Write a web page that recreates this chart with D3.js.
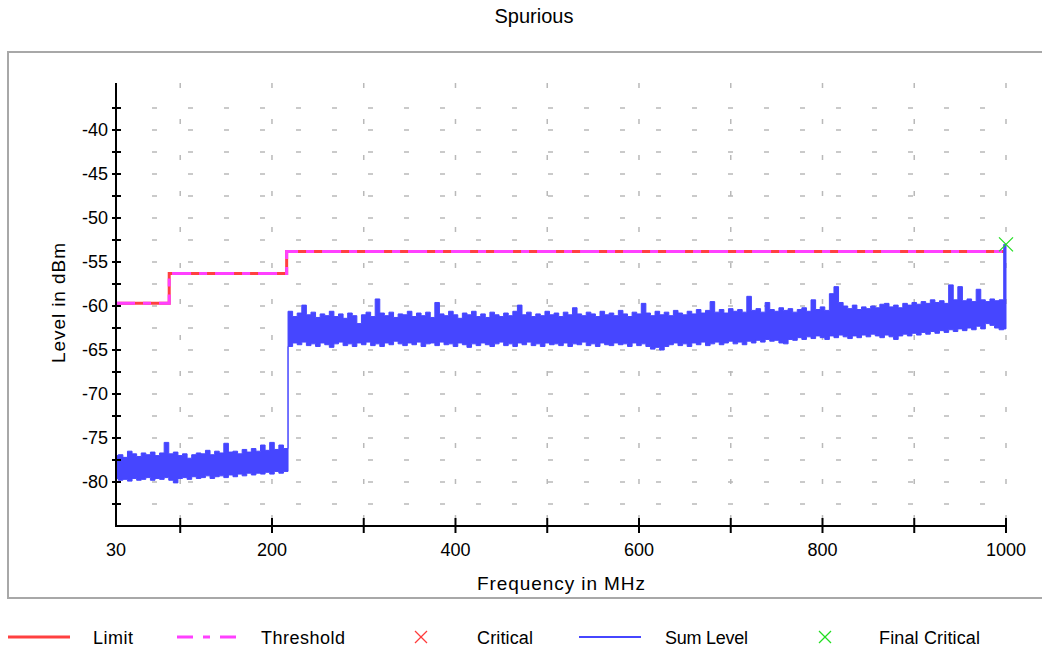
<!DOCTYPE html>
<html><head><meta charset="utf-8">
<script src="https://cdn.jsdelivr.net/npm/d3@7"></script>
<style>
html,body{margin:0;padding:0;background:#fff;}
svg{display:block;font-family:"Liberation Sans",Arial,sans-serif;}
</style></head><body>
<svg id="chart" width="1042" height="649"></svg>
<script>
// ---------- texts ----------
const chartTitle = "Spurious";
const xAxisTitle = "Frequency in MHz";
const yAxisTitle = "Level in dBm";
const legendNames = ["Limit", "Threshold", "Critical", "Sum Level", "Final Critical"];

// ---------- ticks ----------
const xTicks = [100, 200, 300, 400, 500, 600, 700, 800, 900, 1000];
const xTickLabelValues = [30, 200, 400, 600, 800, 1000];
const yTicks = [-82.5, -80, -77.5, -75, -72.5, -70, -67.5, -65, -62.5, -60, -57.5, -55, -52.5, -50, -47.5, -45, -42.5, -40, -37.5];
const yTickLabelValues = [-80, -75, -70, -65, -60, -55, -50, -45, -40];

// ---------- limit / threshold (step lines) ----------
const limitFreq = [30, 88, 216, 1000];
const limitLevel = [-59.7, -56.3, -53.8, -53.8];
const thresholdFreq = [30, 88, 216, 1000];
const thresholdLevel = [-59.7, -56.3, -53.8, -53.8];

// ---------- critical points ----------
const criticalFreq = [];
const criticalLevel = [];
const finalCriticalFreq = [1000];
const finalCriticalLevel = [-53.0];

// ---------- sum level trace (peak envelope per 5 MHz bin, 30..1000 MHz) ----------
const sumFreqStart = 30, sumFreqStep = 5;
const sumUpper = [
 -77.0,-76.9,-77.2,-76.5,-76.8,-77.1,-76.7,-76.9,-76.6,-77.0,-76.7,-75.5,-76.8,-76.6,-77.0,-76.8,-77.3,-76.9,-76.7,-76.8,
 -76.4,-76.9,-76.5,-76.7,-75.6,-76.6,-76.5,-76.8,-76.3,-76.6,-76.2,-76.5,-75.8,-76.4,-75.5,-76.3,-75.8,-76.2,
 -60.6,-61.2,-60.8,-59.9,-61.0,-60.7,-61.3,-60.9,-61.1,-60.6,-61.2,-60.9,-61.4,-60.8,-61.1,-62.0,-61.0,-60.7,-61.2,-59.2,
 -60.8,-61.1,-60.7,-61.3,-60.9,-61.0,-60.6,-61.2,-60.8,-61.1,-60.7,-61.3,-59.6,-60.9,-61.1,-60.6,-61.0,-61.4,-60.8,-61.0,
 -60.6,-61.2,-60.9,-61.3,-60.7,-61.0,-61.2,-60.8,-61.1,-60.6,-59.9,-61.0,-60.7,-61.2,-60.9,-61.1,-60.6,-61.0,-60.8,-61.2,
 -60.7,-61.0,-60.2,-60.9,-61.1,-60.7,-60.9,-61.2,-60.6,-61.0,-60.8,-61.1,-60.5,-60.9,-61.2,-60.7,-60.9,-59.7,-60.8,-61.1,
 -60.6,-61.0,-60.7,-61.1,-60.5,-60.8,-61.0,-60.6,-60.9,-60.4,-60.8,-60.5,-59.5,-60.7,-60.4,-60.8,-60.3,-60.6,-60.4,-60.7,
 -58.9,-60.5,-60.3,-60.7,-59.6,-60.4,-60.6,-60.2,-60.5,-60.3,-60.7,-60.4,-60.2,-60.6,-59.3,-60.4,-60.1,-60.5,-58.6,-57.8,
 -59.6,-60.0,-60.3,-59.9,-60.4,-60.1,-60.3,-60.0,-60.2,-59.8,-59.7,-60.1,-59.9,-60.2,-59.7,-59.9,-59.6,-59.8,-59.5,-59.7,
 -59.3,-59.6,-59.4,-59.7,-57.6,-59.3,-57.8,-59.4,-59.2,-59.5,-58.1,-59.3,-59.5,-59.2,-59.4,-59.3,-53.0
];
const sumLower = [
 -79.6,-79.8,-79.7,-79.9,-79.6,-79.8,-79.7,-79.5,-79.8,-79.6,-79.7,-79.5,-79.8,-80.1,-79.6,-79.5,-79.7,-79.4,-79.6,-79.5,
 -79.3,-79.6,-79.4,-79.3,-79.5,-79.2,-79.4,-79.1,-79.3,-79.0,-79.2,-79.0,-79.1,-78.9,-79.1,-78.8,-79.0,-78.8,
 -64.6,-64.2,-64.4,-64.1,-64.5,-64.3,-64.6,-64.2,-64.4,-64.7,-64.3,-64.1,-64.5,-64.3,-64.6,-64.2,-64.4,-64.1,-64.5,-64.3,
 -64.6,-64.2,-64.4,-64.0,-64.3,-64.5,-64.2,-64.4,-64.1,-64.6,-64.3,-64.2,-64.5,-64.1,-64.4,-64.3,-64.6,-64.2,-64.4,-64.7,
 -64.3,-64.5,-64.2,-64.4,-64.6,-64.3,-64.1,-64.5,-64.3,-64.6,-64.2,-64.4,-64.1,-64.5,-64.3,-64.6,-64.2,-64.4,-64.3,-64.5,
 -64.2,-64.6,-64.3,-64.4,-64.1,-64.5,-64.3,-64.6,-64.2,-64.4,-64.5,-64.2,-64.4,-64.3,-64.6,-64.2,-64.5,-64.3,-64.6,-64.9,
 -64.7,-65.0,-64.6,-64.4,-64.2,-64.5,-64.3,-64.6,-64.2,-64.4,-64.1,-64.5,-64.3,-64.1,-64.4,-64.2,-64.0,-64.3,-64.1,-64.4,
 -64.0,-64.2,-63.9,-64.1,-63.8,-64.0,-63.9,-64.2,-64.3,-63.8,-63.9,-63.6,-63.8,-63.5,-63.7,-63.4,-63.6,-63.8,-63.4,-63.6,
 -63.3,-63.5,-63.7,-63.4,-63.6,-63.3,-63.5,-63.2,-63.4,-63.6,-63.3,-63.5,-63.8,-63.4,-63.2,-63.4,-63.1,-63.3,-63.0,-63.2,
 -62.9,-63.1,-62.8,-63.0,-62.7,-62.9,-62.6,-62.8,-62.5,-62.7,-62.3,-62.6,-62.0,-62.2,-62.5,-62.7,-62.6
];

// ---------- colours ----------
const colLimit = "#ff4040", colThreshold = "#ff40ff", colCritical = "#ff3b3b",
      colSum = "#4646ff", colFinal = "#22dd22", colGrid = "#b9b9b9";

const svg = d3.select("#chart");
const x = d3.scaleLinear().domain([30, 1000]).range([116, 1006]);
const y = d3.scaleLinear().domain([-85, -35]).range([526, 86]);

// frame
svg.append("rect").attr("x", 8).attr("y", 52).attr("width", 1040).attr("height", 546)
  .attr("fill", "#fff").attr("stroke", "#a8a8a8").attr("stroke-width", 2);

// title
svg.append("text").attr("x", 534).attr("y", 23).attr("text-anchor", "middle")
  .attr("font-size", 20).text(chartTitle);

// grid
const grid = svg.append("g");
grid.selectAll("line.h").data(yTicks).join("line")
  .attr("x1", x(30)).attr("x2", x(1000)).attr("y1", d => y(d)).attr("y2", d => y(d))
  .attr("stroke", colGrid).attr("stroke-width", 1.5).attr("stroke-dasharray", "5 31");
grid.selectAll("line.v").data(xTicks).join("line")
  .attr("x1", d => x(d)).attr("x2", d => x(d)).attr("y1", 83).attr("y2", y(-85))
  .attr("stroke", colGrid).attr("stroke-width", 1.5).attr("stroke-dasharray", "5 31");

// limit + threshold
const stepLine = d3.line().x(d => x(d[0])).y(d => y(d[1])).curve(d3.curveStepAfter);
svg.append("path").attr("d", stepLine(limitFreq.map((f, i) => [f, limitLevel[i]])))
  .attr("fill", "none").attr("stroke", colLimit).attr("stroke-width", 3);
svg.append("path").attr("d", stepLine(thresholdFreq.map((f, i) => [f, thresholdLevel[i]])))
  .attr("fill", "none").attr("stroke", colThreshold).attr("stroke-width", 3)
  .attr("stroke-dasharray", "19 8 8 8");

// sum level
const sumData = sumUpper.map((hi, i) => ({ f: sumFreqStart + i * sumFreqStep, hi: hi, lo: sumLower[i] }));
const sumArea = d3.area().x(d => x(d.f)).y0(d => y(d.lo)).y1(d => y(d.hi)).curve(d3.curveStep);
svg.append("path").attr("d", sumArea(sumData))
  .attr("fill", colSum).attr("stroke", colSum).attr("stroke-width", 1).attr("stroke-linejoin", "miter");

// axes
const ax = svg.append("g").attr("stroke", "#000");
ax.append("line").attr("x1", x(30)).attr("x2", x(30)).attr("y1", 83).attr("y2", y(-85)).attr("stroke-width", 2);
ax.append("line").attr("x1", x(30) - 1).attr("x2", x(1000)).attr("y1", y(-85)).attr("y2", y(-85)).attr("stroke-width", 2);
ax.selectAll("line.yt").data(yTicks).join("line")
  .attr("x1", x(30) - 4).attr("x2", x(30) + 5).attr("y1", d => y(d)).attr("y2", d => y(d)).attr("stroke-width", 2);
ax.selectAll("line.xt").data(xTicks).join("line")
  .attr("x1", d => x(d)).attr("x2", d => x(d)).attr("y1", y(-85) - 8).attr("y2", y(-85) + 7).attr("stroke-width", 2);

svg.append("g").selectAll("text").data(yTickLabelValues).join("text")
  .attr("x", 108).attr("y", d => y(d)).attr("dy", "0.36em").attr("text-anchor", "end")
  .attr("font-size", 18).text(d => d);
svg.append("g").selectAll("text").data(xTickLabelValues).join("text")
  .attr("x", d => x(d)).attr("y", 556).attr("text-anchor", "middle")
  .attr("font-size", 18).text(d => d);

svg.append("text").attr("x", 561).attr("y", 590).attr("text-anchor", "middle")
  .attr("font-size", 19).attr("textLength", 168).attr("lengthAdjust", "spacing").text(xAxisTitle);
svg.append("text").attr("transform", "translate(65,303) rotate(-90)").attr("text-anchor", "middle")
  .attr("font-size", 19).attr("textLength", 120).attr("lengthAdjust", "spacing").text(yAxisTitle);

// critical markers
function cross(g, cx, cy, r, color, w) {
  g.append("line").attr("x1", cx - r).attr("y1", cy - r).attr("x2", cx + r).attr("y2", cy + r)
    .attr("stroke", color).attr("stroke-width", w);
  g.append("line").attr("x1", cx - r).attr("y1", cy + r).attr("x2", cx + r).attr("y2", cy - r)
    .attr("stroke", color).attr("stroke-width", w);
}
const marks = svg.append("g");
criticalFreq.forEach((f, i) => cross(marks, x(f), y(criticalLevel[i]), 7, colCritical, 1.3));
finalCriticalFreq.forEach((f, i) => cross(marks, x(f), y(finalCriticalLevel[i]), 7, colFinal, 1.3));

// legend
const lg = svg.append("g");
const ly = 637;
lg.append("line").attr("x1", 8).attr("x2", 70).attr("y1", ly).attr("y2", ly).attr("stroke", colLimit).attr("stroke-width", 3);
lg.append("line").attr("x1", 177).attr("x2", 239).attr("y1", ly).attr("y2", ly).attr("stroke", colThreshold)
  .attr("stroke-width", 3).attr("stroke-dasharray", "16 10 7 10");
cross(lg, 421, ly, 6, colCritical, 1.2);
lg.append("line").attr("x1", 579).attr("x2", 641).attr("y1", ly).attr("y2", ly).attr("stroke", colSum).attr("stroke-width", 2);
cross(lg, 825, ly, 6, colFinal, 1.2);
const legendTextX = [93, 261, 477, 665, 879];
const legendTextW = [40, 84, 56, 83, 101];
lg.selectAll("text").data(legendNames).join("text")
  .attr("x", (d, i) => legendTextX[i]).attr("y", 644).attr("font-size", 18)
  .attr("textLength", (d, i) => legendTextW[i]).attr("lengthAdjust", "spacing").text(d => d);
</script>
</body></html>
